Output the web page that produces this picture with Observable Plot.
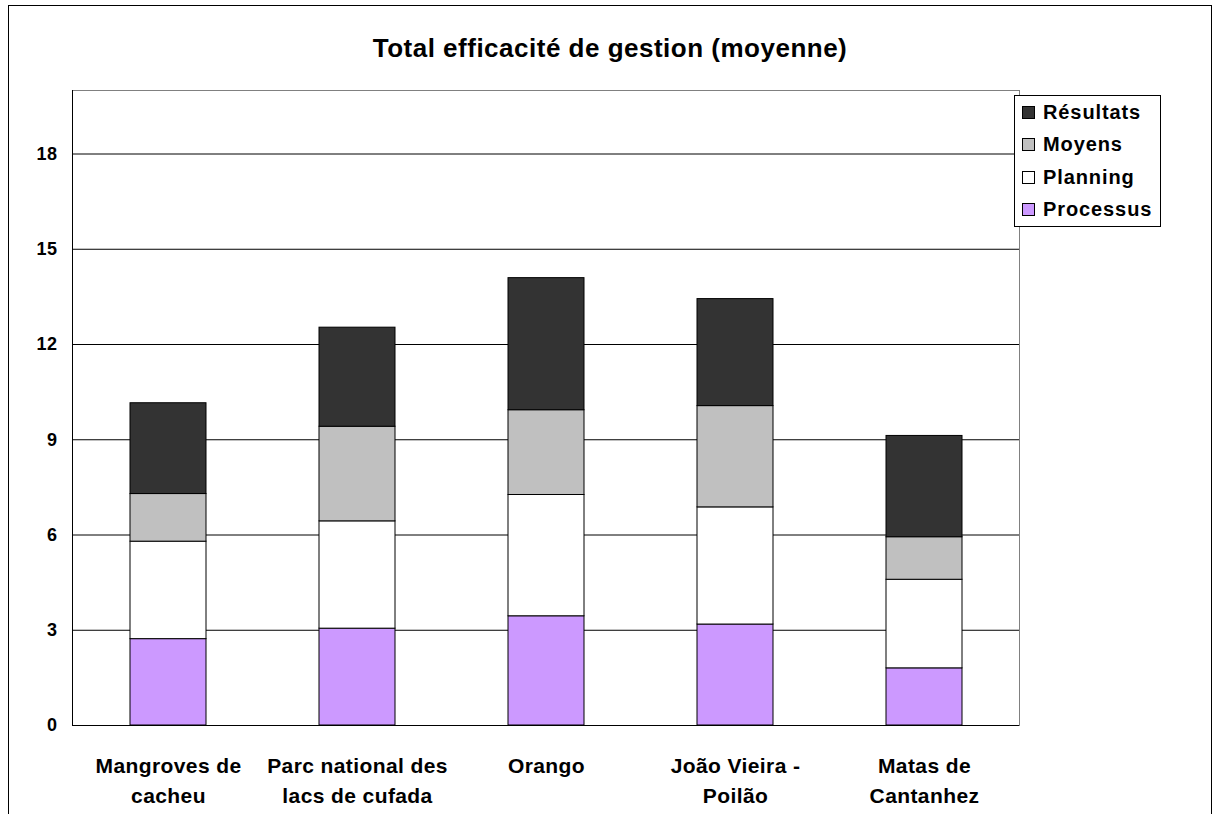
<!DOCTYPE html>
<html>
<head>
<meta charset="utf-8">
<script src="https://cdn.jsdelivr.net/npm/d3@7"></script>
<script src="https://cdn.jsdelivr.net/npm/@observablehq/plot@0.6"></script>
<style>
  html, body { margin: 0; padding: 0; background: #fff; }
  #wrap { position: relative; width: 1216px; height: 814px; overflow: hidden; font-family: "Liberation Sans", Arial, sans-serif; }
  #outer { position: absolute; left: 8px; top: 5px; width: 1204px; height: 830px; border: 1px solid #000; box-sizing: border-box; }
  #chart { position: absolute; left: 0; top: 0; }
  #title { position: absolute; left: 8px; width: 1204px; top: 33px; text-align: center; font-size: 26px; line-height: 30px; font-weight: bold; letter-spacing: 0.5px; color: #000; }
  #legend { position: absolute; left: 1014px; top: 95px; width: 147px; height: 132px; box-sizing: border-box; border: 1px solid #000; background: #fff; }
  .row { height: 32.5px; display: flex; align-items: center; }
  .sw { width: 11px; height: 11px; border: 1px solid #000; margin-left: 7px; margin-right: 8px; flex: none; }
  .lab { font-size: 20px; font-weight: bold; letter-spacing: 0.9px; color: #000; }
</style>
</head>
<body>
<div id="wrap">
  <div id="outer"></div>
  <div id="chart"></div>
  <div id="title">Total efficacité de gestion (moyenne)</div>
  <div id="legend"></div>
</div>
<script>
// ---- Data ----
const sites = ["Mangroves de cacheu", "Parc national des lacs de cufada", "Orango", "João Vieira - Poilão", "Matas de Cantanhez"];
const xTickLabels = ["Mangroves de\ncacheu", "Parc national des\nlacs de cufada", "Orango", "João Vieira -\nPoilão", "Matas de\nCantanhez"];
const series = ["Processus", "Planning", "Moyens", "Résultats"];
const seriesColors = ["#CC99FF", "#FFFFFF", "#C0C0C0", "#333333"];
const processus = [2.72, 3.05, 3.44, 3.18, 1.80];
const planning  = [3.07, 3.38, 3.82, 3.69, 2.79];
const moyens    = [1.50, 2.98, 2.67, 3.19, 1.34];
const resultats = [2.86, 3.12, 4.16, 3.37, 3.19];
const yTicks = [0, 3, 6, 9, 12, 15, 18];
const legendOrder = ["Résultats", "Moyens", "Planning", "Processus"];

const valuesBySeries = [processus, planning, moyens, resultats];
const data = [];
series.forEach((s, j) => sites.forEach((site, i) => data.push({site, series: s, value: valuesBySeries[j][i]})));

const chart = Plot.plot({
  width: 1216,
  height: 814,
  marginLeft: 72,
  marginRight: 197,
  marginTop: 90,
  marginBottom: 89,
  style: {background: "transparent", fontFamily: "Liberation Sans, Arial, sans-serif"},
  x: {domain: sites, paddingInner: 0.6, paddingOuter: 0.3, axis: null, label: null},
  y: {domain: [0, 20], axis: null, label: null},
  color: {domain: series, range: seriesColors},
  marks: [
    Plot.frame({stroke: "#808080", fill: "#fff"}),
    Plot.ruleY(yTicks.filter(d => d > 0), {stroke: "#000", strokeWidth: 1}),
    Plot.barY(data, {x: "site", y: "value", fill: "series", stroke: "#000", strokeWidth: 1, order: null}),
    Plot.frame({anchor: "left", stroke: "#000"}),
    Plot.ruleY([0], {stroke: "#000", strokeWidth: 1}),
    Plot.axisY({ticks: yTicks, tickSize: 0, tickPadding: 15, fontSize: 18, fontWeight: "bold", label: null, tickFormat: d => String(d)}),
    Plot.axisX({tickSize: 0, tickPadding: 27, fontSize: 21, fontWeight: "bold", lineHeight: 1.4, lineAnchor: "top", label: null,
      tickFormat: d => xTickLabels[sites.indexOf(d)]})
  ]
});
document.getElementById("chart").appendChild(chart);
d3.select(chart).selectAll('g[aria-label="x-axis tick label"] text').style("letter-spacing", "0.4px");
d3.select(chart).selectAll('g[aria-label="y-axis tick label"] text').style("letter-spacing", "0.5px");

// Legend
const legend = d3.select("#legend");
legendOrder.forEach(name => {
  const row = legend.append("div").attr("class", "row");
  row.append("div").attr("class", "sw").style("background", seriesColors[series.indexOf(name)]);
  row.append("div").attr("class", "lab").text(name);
});
</script>
</body>
</html>
